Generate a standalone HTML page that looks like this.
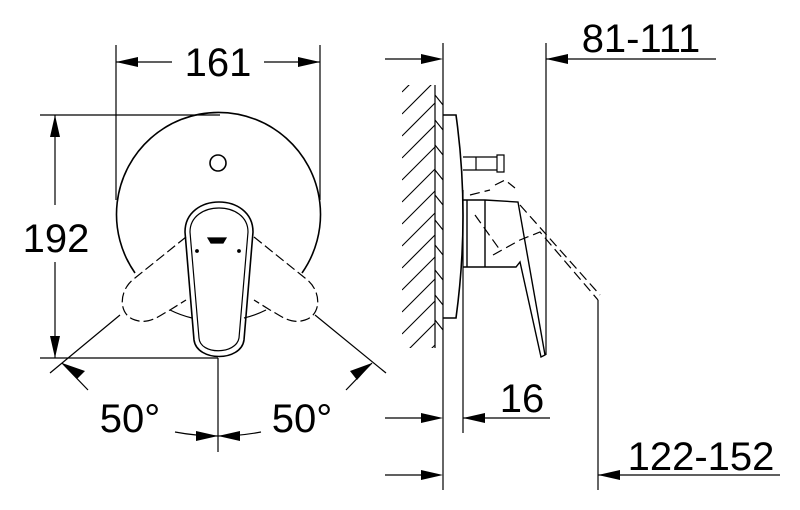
<!DOCTYPE html>
<html><head><style>html,body{margin:0;padding:0;background:#fff}svg{display:block}text{font-family:"Liberation Sans",sans-serif;fill:#000}</style></head>
<body>
<svg width="800" height="510" viewBox="0 0 800 510" xmlns="http://www.w3.org/2000/svg">
<defs><clipPath id="wc"><rect x="402" y="85" width="33" height="263"/></clipPath></defs>
<g stroke="#000" stroke-width="1.2" fill="none">
<line x1="116" y1="45" x2="116" y2="200"/>
<line x1="320" y1="45" x2="320" y2="200"/>
<line x1="116" y1="62" x2="172" y2="62"/>
<line x1="264" y1="62" x2="320" y2="62"/>
<line x1="40" y1="115" x2="220" y2="115"/>
<line x1="40" y1="358" x2="218" y2="358"/>
<line x1="55" y1="115" x2="55" y2="205"/>
<line x1="55" y1="262" x2="55" y2="358"/>
<path d="M135 273 A102 102 0 1 1 302 273" stroke-width="1.6"/>
<path d="M170 310 A102 102 0 0 0 192 318"/>
<path d="M244 318 A102 102 0 0 0 266 310"/>
<circle cx="218" cy="163" r="8" stroke-width="1.6"/>
<path d="M185 232 C185 192 253 192 253 232 L244 340 C241 362 197 362 194 340 Z" stroke-width="1.6"/>
<path d="M190 232 C190 200 248 200 248 232 L239 338 C236 355 200 355 199 338 Z"/>
<path d="M208 238 h18 l-3 5 h-12 z" fill="#000"/>
<circle cx="197" cy="251" r="1.3" fill="#000"/>
<circle cx="239" cy="251" r="1.3" fill="#000"/>
<path d="M186 237 L135 278 C118 290 118 315 135 320 C150 325 160 315 170 310 L186 300" stroke-dasharray="10,4"/>
<path d="M254 237 L305 278 C322 290 322 315 305 320 C290 325 280 315 270 310 L254 300" stroke-dasharray="10,4"/>
<line x1="120" y1="315" x2="50" y2="373"/>
<line x1="315" y1="315" x2="386" y2="373"/>
<line x1="218" y1="358" x2="218" y2="452"/>
<path d="M175 432 Q196 436 218 436 Q240 436 261 432"/>
<line x1="62" y1="363" x2="88" y2="390"/>
<line x1="372" y1="363" x2="346" y2="390"/>

<line x1="443" y1="43" x2="443" y2="490"/>
<line x1="435" y1="85" x2="435" y2="348"/>
<line x1="385" y1="59" x2="425" y2="59"/>
<line x1="385" y1="418" x2="425" y2="418"/>
<line x1="385" y1="475" x2="425" y2="475"/>
<path d="M443 115 H456 Q470 215 456 318 H443" stroke-width="1.6"/>
<line x1="463" y1="190" x2="463" y2="433"/>
<path d="M463 157 H497 M463 170 H497 M476 157 V170 M497 155 H504 V172 H497 Z"/>
<path d="M463 200 H485 L518 202 L545 355 L541 357 L520 262 L516 267 H485 M485 200 V267 M463 267 H485 M467 200 V267" stroke-width="1.4"/>
<path d="M470 195 L490 190 M495 185 L505 180 L515 188 M475 215 L500 250 M493 255 L520 240 L540 232 L598 300" stroke-dasharray="10,5"/>
<path d="M520 205 L600 295" stroke-dasharray="10,5"/>
<line x1="546" y1="43" x2="546" y2="355"/>
<line x1="546" y1="59" x2="716" y2="59"/>
<line x1="463" y1="418" x2="550" y2="418"/>
<line x1="598" y1="300" x2="598" y2="490"/>
<line x1="598" y1="475" x2="780" y2="475"/>
</g>
<g stroke="#000" stroke-width="1.1" clip-path="url(#wc)">
<line x1="402" y1="92" x2="435" y2="59"/>
<line x1="402" y1="114" x2="435" y2="81"/>
<line x1="402" y1="136" x2="435" y2="103"/>
<line x1="402" y1="158" x2="435" y2="125"/>
<line x1="402" y1="180" x2="435" y2="147"/>
<line x1="402" y1="202" x2="435" y2="169"/>
<line x1="402" y1="224" x2="435" y2="191"/>
<line x1="402" y1="246" x2="435" y2="213"/>
<line x1="402" y1="268" x2="435" y2="235"/>
<line x1="402" y1="290" x2="435" y2="257"/>
<line x1="402" y1="312" x2="435" y2="279"/>
<line x1="402" y1="334" x2="435" y2="301"/>
<line x1="402" y1="356" x2="435" y2="323"/>
<line x1="402" y1="378" x2="435" y2="345"/>
</g>
<g stroke="#000" stroke-width="1.1" fill="none">
<path d="M435 95 l8 10 M435 120 l8 10 M435 145 l8 10 M435 170 l8 10 M435 195 l8 10 M435 220 l8 10 M435 245 l8 10 M435 270 l8 10 M435 295 l8 10 M435 320 l8 10"/>
</g>
<g fill="#000">
<polygon points="116,62 138,57 138,67"/>
<polygon points="320,62 298,57 298,67"/>
<polygon points="55,115 50,137 60,137"/>
<polygon points="55,358 50,336 60,336"/>
<polygon points="62,363 85,371 77,379"/>
<polygon points="372,363 357,380 350,371"/>
<polygon points="218,436 196,431 196,441"/>
<polygon points="218,436 240,431 240,441"/>
<polygon points="443,59 421,54 421,64"/>
<polygon points="443,418 421,413 421,423"/>
<polygon points="443,475 421,470 421,480"/>
<polygon points="546,59 568,54 568,64"/>
<polygon points="463,418 485,413 485,423"/>
<polygon points="598,475 620,470 620,480"/>
</g>
<g font-size="40">
<text x="218" y="76" text-anchor="middle">161</text>
<text x="56" y="252" text-anchor="middle">192</text>
<text x="130" y="432" text-anchor="middle">50°</text>
<text x="302" y="432" text-anchor="middle">50°</text>
<text x="641" y="52" text-anchor="middle">81-111</text>
<text x="522" y="412" text-anchor="middle">16</text>
<text x="701" y="470" text-anchor="middle">122-152</text>
</g>
</svg>
</body></html>
